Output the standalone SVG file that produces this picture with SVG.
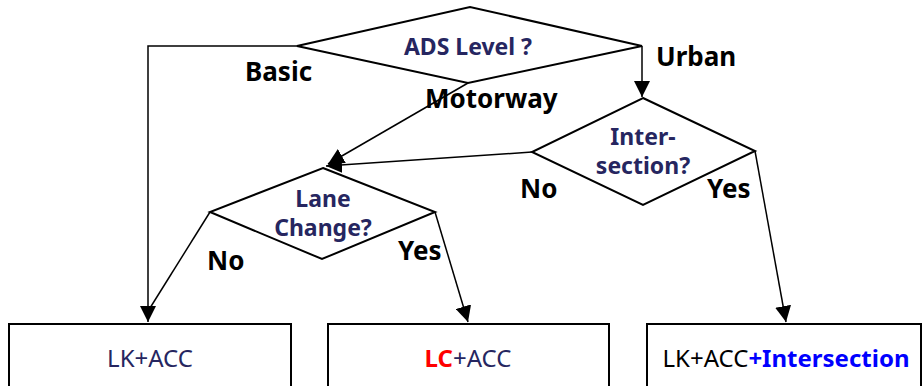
<svg xmlns="http://www.w3.org/2000/svg" width="923" height="386" viewBox="0 0 923 386">
<style>
.shape{fill:#fff;stroke:#000;stroke-width:2}
.line{fill:none;stroke:#000;stroke-width:1.5}
.lbl{font-family:"Noto Sans",sans-serif;font-weight:bold;font-size:26px;fill:#000}
.q{font-family:"Noto Sans",sans-serif;font-weight:bold;font-size:23px;fill:#262660;text-anchor:middle}
.bx{font-family:"Noto Sans",sans-serif;font-size:24px;fill:#262660;text-anchor:middle}
</style>
<defs>
<marker id="arr" markerWidth="16" markerHeight="16" refX="10" refY="5" orient="auto" markerUnits="userSpaceOnUse" viewBox="0 0 10 10">
<path d="M0,0 L10,5 L0,10 z" fill="#000"/>
</marker>
</defs>
<g id="connectors">
<polyline class="line" points="297,46 148,46 148,322" marker-end="url(#arr)"/>
<line class="line" x1="642" y1="46" x2="642" y2="97" marker-end="url(#arr)"/>
<line class="line" x1="468" y1="83" x2="328" y2="164" marker-end="url(#arr)"/>
<line class="line" x1="532" y1="152" x2="326" y2="166" marker-end="url(#arr)"/>
<line class="line" x1="755" y1="151" x2="786" y2="322" marker-end="url(#arr)"/>
<line class="line" x1="210" y1="212" x2="150" y2="308"/>
<line class="line" x1="435" y1="212" x2="468" y2="322" marker-end="url(#arr)"/>
<text class="lbl" x="245" y="81">Basic</text>
<text class="lbl" x="656" y="66">Urban</text>
<text class="lbl" x="425" y="108">Motorway</text>
<text class="lbl" x="520" y="198">No</text>
<text class="lbl" x="707" y="198">Yes</text>
<text class="lbl" x="207" y="270">No</text>
<text class="lbl" x="398" y="260">Yes</text>
</g>
<g id="ads">
<polygon class="shape" points="297,46 470,7 642,46 468,83"/>
<text class="q" x="468" y="55">ADS Level ?</text>
</g>
<g id="intersection">
<polygon class="shape" points="643,98 755,151 643,205 532,152"/>
<text class="q" x="643" y="145">Inter-</text>
<text class="q" x="643" y="174">section?</text>
</g>
<g id="lanechange">
<polygon class="shape" points="323,168 435,212 322,259 210,212"/>
<text class="q" x="323" y="207">Lane</text>
<text class="q" x="323" y="236">Change?</text>
</g>
<g id="box1">
<rect class="shape" x="9" y="324" width="282" height="70"/>
<text class="bx" x="150" y="367">LK+ACC</text>
</g>
<g id="box2">
<rect class="shape" x="328" y="324" width="281" height="70"/>
<text class="bx" x="468" y="367"><tspan fill="#f00" font-weight="bold">LC</tspan>+ACC</text>
</g>
<g id="box3">
<rect class="shape" x="647" y="324" width="274" height="70"/>
<text class="bx" x="786" y="367" style="fill:#000">LK+ACC<tspan fill="#0000ff" font-weight="bold">+Intersection</tspan></text>
</g>
</svg>
